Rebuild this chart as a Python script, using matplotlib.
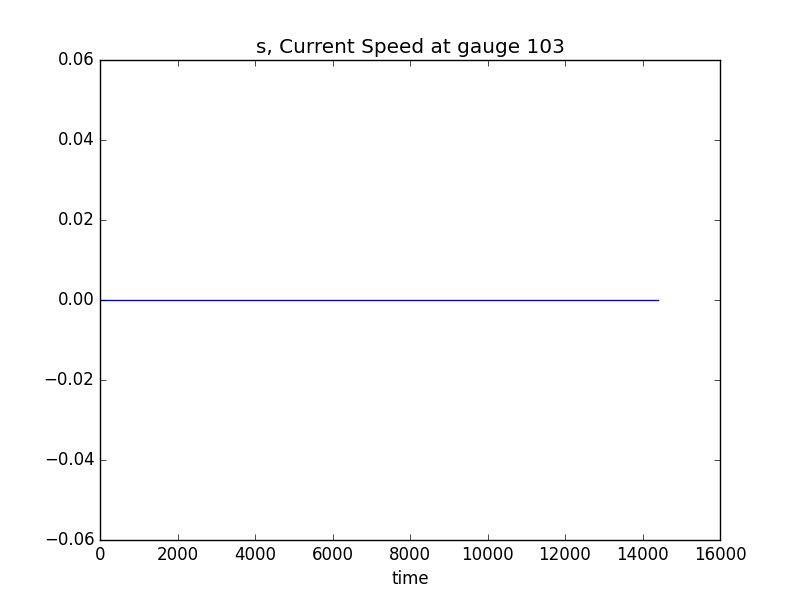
import matplotlib
matplotlib.use("Agg")
import matplotlib.pyplot as plt

# gauge 103 current speed record (flat zero over the run)
times = [0.0, 3600.0, 7200.0, 10800.0, 14400.0]
speed = [0.0, 0.0, 0.0, 0.0, 0.0]

plt.style.use("classic")

fig = plt.figure(figsize=(8, 6), dpi=100)
ax = fig.add_subplot(111)
ax.plot(times, speed, color="b", linestyle="-")
ax.set_xlim(0, 16000)
ax.set_ylim(-0.06, 0.06)
ax.set_title("s, Current Speed at gauge 103")
ax.set_xlabel("time")

fig.patch.set_facecolor("white")
fig.savefig("out.png", dpi=100, facecolor="white")
plt.close(fig)
